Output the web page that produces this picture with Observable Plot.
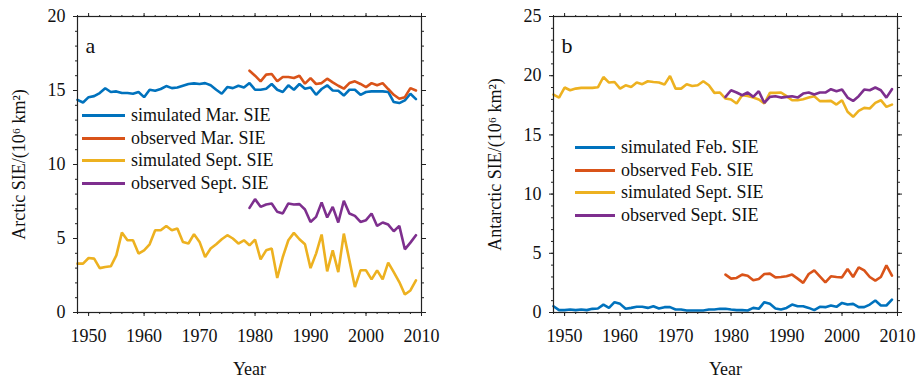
<!DOCTYPE html>
<html>
<head>
<meta charset="utf-8">
<script src="https://cdn.jsdelivr.net/npm/d3@7"></script>
<script src="https://cdn.jsdelivr.net/npm/@observablehq/plot@0.6"></script>
<style>
  body { margin: 0; background: #fff; font-family: "Liberation Serif", "Times New Roman", serif; }
  #wrap { display: flex; width: 916px; height: 379px; }
  .panel { position: relative; width: 458px; height: 379px; }
  .legend { position: absolute; font-size: 18px; color: #111; }
  .legend .row { display: flex; align-items: center; height: 22.7px; white-space: nowrap; }
  .legend .sw { display: inline-block; height: 3px; margin-right: 6px; }
</style>
</head>
<body>
<div id="wrap"><div class="panel" id="pa"></div><div class="panel" id="pb"></div></div>
<script>
// ---- data ----
const years = d3.range(1948, 2010);      // simulated series years
const obsYears = d3.range(1979, 2010);   // observed series years

const xMajorTicks = [1950, 1960, 1970, 1980, 1990, 2000, 2010];
const xMinorTicks = d3.range(1948, 2011, 2);

// Panel a (Arctic)
const arcticSimMar = [14.37,14.19,14.55,14.62,14.83,15.15,14.9,14.94,14.83,14.83,14.78,14.9,14.55,15.05,14.98,15.1,15.3,15.16,15.2,15.32,15.44,15.48,15.44,15.5,15.35,15.05,14.78,15.23,15.16,15.32,15.2,15.5,15.05,15.05,15.12,15.44,15.05,14.9,15.35,15.05,15.44,15.12,15.2,14.71,15.1,15.35,15.0,14.98,14.66,15.05,15.05,14.71,14.9,14.94,14.94,14.94,14.9,14.22,14.15,14.33,14.78,14.42];
const arcticObsMar = [16.34,16.0,15.62,16.07,16.11,15.62,15.91,15.91,15.84,16.0,15.46,15.84,15.44,15.5,15.8,15.55,15.32,15.12,15.5,15.62,15.44,15.23,15.5,15.35,15.5,15.1,14.71,14.44,14.55,15.16,15.0];
const arcticSimSep = [3.3,3.3,3.68,3.64,3.0,3.07,3.12,3.86,5.4,4.88,4.88,3.98,4.2,4.61,5.56,5.56,5.85,5.56,5.67,4.77,4.66,5.29,4.77,3.75,4.32,4.61,4.95,5.22,5.0,4.66,4.88,4.54,4.93,3.59,4.2,4.32,2.33,3.75,4.88,5.38,4.95,4.61,3.0,3.98,5.27,2.78,4.2,2.73,5.33,3.53,1.72,2.85,2.85,2.24,2.85,2.24,3.37,2.73,2.06,1.22,1.49,2.17];
const arcticObsSep = [7.07,7.66,7.14,7.3,7.37,6.8,6.69,7.37,7.3,7.32,6.96,6.12,6.46,7.44,6.42,7.14,6.08,7.55,6.69,6.53,6.12,6.24,6.69,5.85,6.08,5.94,5.49,5.85,4.27,4.72,5.22];

// Panel b (Antarctic)
const antSimFeb = [0.53,0.2,0.2,0.25,0.2,0.25,0.2,0.31,0.34,0.67,0.39,0.87,0.73,0.31,0.39,0.48,0.48,0.39,0.53,0.34,0.45,0.45,0.25,0.25,0.17,0.17,0.17,0.17,0.25,0.25,0.31,0.31,0.25,0.2,0.2,0.17,0.39,0.31,0.87,0.73,0.34,0.25,0.39,0.67,0.53,0.53,0.39,0.2,0.48,0.45,0.59,0.48,0.81,0.67,0.73,0.45,0.45,0.67,1.01,0.59,0.59,1.09];
const antObsFeb = [3.2,2.86,2.92,3.2,3.11,2.72,2.83,3.25,3.28,2.97,3.0,3.06,3.2,2.86,2.5,3.25,3.56,3.06,2.55,3.06,3.0,2.97,3.68,3.0,3.82,3.56,3.0,2.69,3.0,3.98,3.11];
const antSimSep = [18.4,18.15,19.0,18.77,18.91,18.97,18.97,18.97,19.02,19.89,19.42,19.47,18.91,19.19,19.05,19.42,19.28,19.53,19.47,19.42,19.25,19.98,18.91,18.91,19.28,19.13,19.19,19.53,19.19,18.55,18.58,18.07,17.99,17.65,18.35,18.29,18.15,17.99,17.65,18.55,18.55,18.58,18.27,17.93,17.93,18.01,18.15,18.27,17.85,17.85,17.87,17.56,17.93,16.95,16.53,17.03,17.28,17.23,17.7,17.93,17.37,17.56];
const antObsSep = [18.21,18.77,18.58,18.35,18.58,18.21,18.69,17.7,18.21,18.27,18.15,18.21,18.27,18.15,18.49,18.58,18.41,18.58,18.58,18.86,18.69,18.83,18.15,17.87,18.27,18.83,18.77,19.0,18.77,18.15,18.86];

const colors = ["#0072BD", "#D95319", "#EDB120", "#7E2F8E"];
const namesA = ["simulated Mar. SIE", "observed Mar. SIE", "simulated Sept. SIE", "observed Sept. SIE"];
const namesB = ["simulated Feb. SIE", "observed Feb. SIE", "simulated Sept. SIE", "observed Sept. SIE"];

// ---- drawing ----
const ink = "#222";
function rows(xs, vs) { return xs.map((year, i) => ({year, value: vs[i]})); }

function makePanel(cfg) {
  const marks = [
    Plot.axisX({ticks: xMajorTicks, tickSize: 4, tickPadding: 13, tickFormat: "d", stroke: ink,
      label: "Year", labelAnchor: "center", labelArrow: "none", labelOffset: 62}),
    Plot.axisX({ticks: xMinorTicks, tickSize: 2, tickFormat: () => "", label: null, stroke: ink}),
    Plot.axisX({anchor: "top", ticks: xMajorTicks, tickSize: 4, tickFormat: () => "", label: null, stroke: ink}),
    Plot.axisX({anchor: "top", ticks: xMinorTicks, tickSize: 2, tickFormat: () => "", label: null, stroke: ink}),
    Plot.axisY({ticks: cfg.yMajor, tickSize: 4, tickPadding: 8, stroke: ink,
      label: cfg.yLabel, labelAnchor: "center", labelArrow: "none", labelOffset: 65, fontSize: 18}),
    Plot.axisY({ticks: cfg.yMinor, tickSize: 2, tickFormat: () => "", label: null, stroke: ink}),
    Plot.axisY({anchor: "right", ticks: cfg.yMajor, tickSize: 4, tickFormat: () => "", label: null, stroke: ink}),
    Plot.axisY({anchor: "right", ticks: cfg.yMinor, tickSize: 2, tickFormat: () => "", label: null, stroke: ink}),
    ...cfg.series.map((s, i) => Plot.line(rows(s.x, s.v), {x: "year", y: "value", stroke: colors[i], strokeWidth: 2.6, strokeLinejoin: "miter"})),
    Plot.frame({stroke: ink, strokeWidth: 1.2}),
    Plot.text([cfg.letter], {frameAnchor: "top-left", dx: 8, dy: 21, fontSize: 22, textAnchor: "start", fill: "#111"})
  ];
  const svg = Plot.plot({
    width: 458, height: 379,
    marginTop: 16, marginBottom: 67, marginLeft: cfg.marginLeft, marginRight: cfg.marginRight,
    x: {domain: [1948, 2010]},
    y: {domain: [0, cfg.yMax]},
    style: {fontFamily: '"Liberation Serif", "Times New Roman", serif', fontSize: "18px", color: "#111", background: "transparent", overflow: "visible"},
    marks
  });
  const el = document.getElementById(cfg.id);
  el.appendChild(svg);
  const lg = document.createElement("div");
  lg.className = "legend";
  lg.style.left = cfg.legendLeft + "px";
  lg.style.top = cfg.legendTop + "px";
  cfg.names.forEach((n, i) => {
    const r = document.createElement("div");
    r.className = "row";
    const sw = document.createElement("span");
    sw.className = "sw";
    sw.style.width = cfg.swatch + "px";
    sw.style.background = colors[i];
    r.appendChild(sw);
    r.appendChild(document.createTextNode(n));
    lg.appendChild(r);
  });
  el.appendChild(lg);
}

makePanel({
  id: "pa", letter: "a", yMax: 20, yMajor: [0, 5, 10, 15, 20], yMinor: d3.range(0, 21),
  yLabel: "Arctic SIE/(10\u2076 km\u00B2)", marginLeft: 77, marginRight: 37,
  names: namesA, legendLeft: 82, legendTop: 104, swatch: 43,
  series: [{x: years, v: arcticSimMar}, {x: obsYears, v: arcticObsMar}, {x: years, v: arcticSimSep}, {x: obsYears, v: arcticObsSep}]
});
makePanel({
  id: "pb", letter: "b", yMax: 25, yMajor: [0, 5, 10, 15, 20, 25], yMinor: d3.range(0, 26),
  yLabel: "Antarctic SIE/(10\u2076 km\u00B2)", marginLeft: 95, marginRight: 19,
  names: namesB, legendLeft: 117, legendTop: 136, swatch: 40,
  series: [{x: years, v: antSimFeb}, {x: obsYears, v: antObsFeb}, {x: years, v: antSimSep}, {x: obsYears, v: antObsSep}]
});
</script>
</body>
</html>
